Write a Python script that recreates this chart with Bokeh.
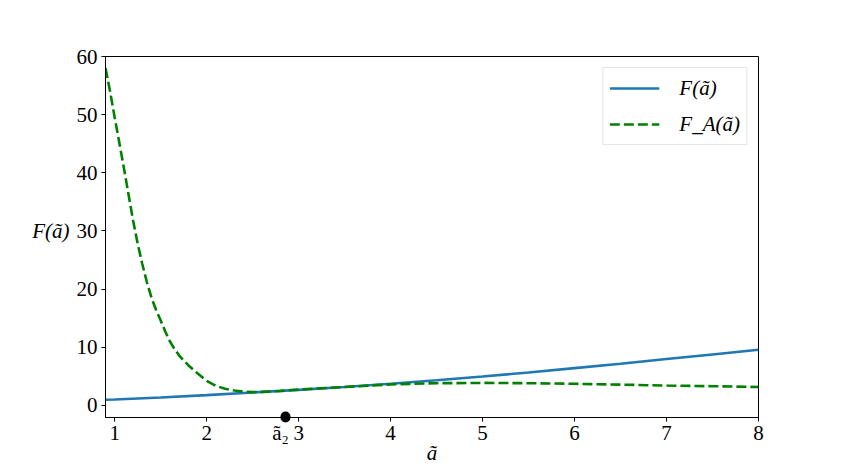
from bokeh.plotting import figure
from bokeh.models import Legend, LegendItem, FixedTicker, Range1d, LinearAxis
from bokeh.embed import file_html
from bokeh.resources import INLINE

# ---- data ----
a_F = [0.9, 1.0, 1.5, 2.0, 2.5, 3.0, 3.5, 4.0, 4.5, 5.0, 5.5, 6.0, 6.5, 7.0, 7.5, 8.0]
F_vals = [0.95, 1.0, 1.35, 1.75, 2.2, 2.65, 3.15, 3.7, 4.3, 4.95, 5.65, 6.4, 7.15, 7.95, 8.75, 9.55]

a_FA = [0.9, 0.95, 1.0, 1.05, 1.1, 1.15, 1.2, 1.25, 1.3, 1.35, 1.4, 1.45, 1.5, 1.55, 1.6,
        1.65, 1.7, 1.75, 1.8, 1.9, 2.0, 2.1, 2.2, 2.3, 2.4, 2.5, 2.6, 2.8, 3.0, 3.5, 4.0,
        4.5, 5.0, 5.5, 6.0, 6.5, 7.0, 7.5, 8.0]
FA_vals = [58.0, 54.0, 49.5, 45.2, 40.8, 36.3, 31.8, 27.8, 24.3, 21.2, 18.5, 16.4, 14.6, 12.7,
           11.0, 9.7, 8.6, 7.7, 6.9, 5.5, 4.2, 3.35, 2.85, 2.55, 2.35, 2.27, 2.3, 2.47, 2.7,
           3.15, 3.6, 3.8, 3.85, 3.8, 3.7, 3.55, 3.4, 3.28, 3.15]

a2 = 2.86
a2_label = "ã₂\u2002"
x_ticks = [1, 2, 3, 4, 5, 6, 7, 8]
y_ticks = [0, 10, 20, 30, 40, 50, 60]
x_lim = (0.9, 8.0)
y_lim = (-2.1, 60.0)
x_title = "ã"
y_title = "F(ã)"
y_title_at = 30

SERIF = "Liberation Serif"

p = figure(width=843, height=468, output_backend="svg", toolbar_location=None,
           x_range=Range1d(*x_lim), y_range=Range1d(*y_lim),
           min_border_left=105, min_border_right=85, min_border_top=56, min_border_bottom=51)
p.background_fill_color = "white"
p.border_fill_color = "white"
p.grid.visible = False
p.outline_line_color = "black"
p.outline_line_alpha = 1.0
p.outline_line_width = 1

for ax in (p.xaxis[0], p.yaxis[0]):
    ax.axis_line_color = "black"
    ax.major_tick_line_color = "black"
    ax.major_tick_in = 0
    ax.major_tick_out = 4
    ax.major_label_text_font = SERIF
    ax.major_label_text_font_size = "21px"
    ax.major_label_text_color = "black"
p.yaxis[0].minor_tick_line_color = None
p.yaxis[0].ticker = FixedTicker(ticks=y_ticks)
p.yaxis[0].major_label_standoff = 4

xa = p.xaxis[0]
xa.ticker = FixedTicker(ticks=x_ticks + [a2], minor_ticks=[a2])
xa.major_label_overrides = {a2: a2_label}
xa.major_label_standoff = -1
# the marked point on the axis, drawn as a round minor tick
xa.minor_tick_line_color = "black"
xa.minor_tick_line_width = 10
xa.minor_tick_line_cap = "round"
xa.minor_tick_in = 1
xa.minor_tick_out = 0
xa.axis_label = x_title
xa.axis_label_text_font = SERIF
xa.axis_label_text_font_size = "21px"
xa.axis_label_text_font_style = "italic"
xa.axis_label_text_color = "black"
xa.axis_label_standoff = -7

# horizontal y title as a label-only axis
ya2 = LinearAxis(ticker=FixedTicker(ticks=[y_title_at], minor_ticks=[]),
                 major_label_overrides={y_title_at: y_title})
ya2.axis_line_color = None
ya2.major_tick_line_color = None
ya2.minor_tick_line_color = None
ya2.major_tick_in = 0
ya2.major_tick_out = 0
ya2.major_label_standoff = 4
ya2.major_label_text_font = SERIF
ya2.major_label_text_font_size = "21px"
ya2.major_label_text_font_style = "italic"
ya2.major_label_text_color = "black"
p.add_layout(ya2, "left")

rF = p.line(a_F, F_vals, line_color="#1f77b4", line_width=2.6)
rFA = p.line(a_FA, FA_vals, line_color="green", line_width=2.6, line_dash="10 4")

legend = Legend(items=[LegendItem(label="F(ã)", renderers=[rF]),
                       LegendItem(label="F_A(ã)", renderers=[rFA])],
                location="top_right")
legend.margin = 11
legend.padding = 6
legend.spacing = 8
legend.glyph_width = 50
legend.glyph_height = 28
legend.label_height = 28
legend.label_standoff = 20
legend.label_text_font = SERIF
legend.label_text_font_size = "21px"
legend.label_text_font_style = "italic"
legend.label_text_color = "black"
legend.border_line_color = "#cccccc"
legend.border_line_width = 1
legend.background_fill_alpha = 0.8
p.add_layout(legend)

open("out.html", "w").write(file_html(p, INLINE))
